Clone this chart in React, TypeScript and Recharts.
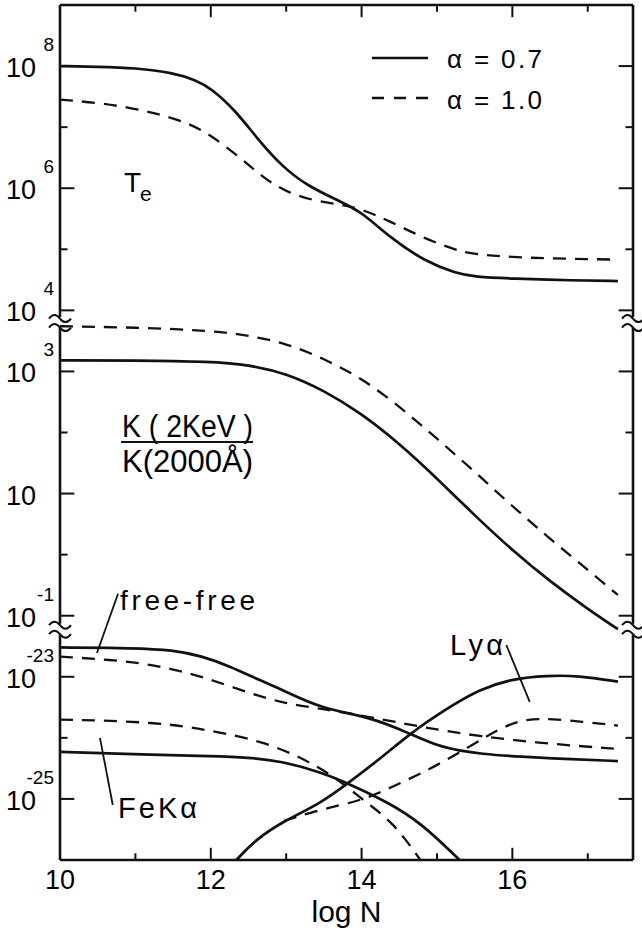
import React from 'react';
import { LineChart, Line, XAxis, YAxis, ReferenceLine, ReferenceDot } from 'recharts';

// ---------------- axis setup (log N horizontally, stacked log panels vertically) ----------------
const X_MIN = 10;
const X_MAX = 17.6;
const U_MIN = 0;
const U_MAX = 14;

// each panel is drawn on a shared vertical scale "u" = log10(value) + panel offset
const OFF_TE = 5;
const OFF_K = 5;
const OFF_EMIS = 26;

// broken-axis positions (in u)
const BREAK_UPPER = 8.8;
const BREAK_LOWER = 3.78;

// ---------------- data: T_e panel (log10 T_e) ----------------
const teSolidLogN = [10, 10.5, 11, 11.5, 11.8, 12, 12.33, 12.63, 12.95, 13.29, 13.74, 14, 14.39, 14.83, 15.26, 15.5, 16, 16.8, 17.4];
const teSolidLog = [8.0, 7.99, 7.97, 7.89, 7.77, 7.64, 7.27, 6.79, 6.35, 6.03, 5.77, 5.61, 5.18, 4.81, 4.6, 4.55, 4.52, 4.49, 4.48];
const teDashLogN = [10, 10.5, 10.92, 11.3, 11.67, 11.97, 12.42, 12.68, 12.99, 13.38, 13.74, 14, 14.39, 14.83, 15.26, 15.5, 16, 16.5, 17, 17.4];
const teDashLog = [7.45, 7.4, 7.32, 7.22, 7.08, 6.9, 6.47, 6.19, 5.94, 5.79, 5.73, 5.66, 5.45, 5.18, 4.98, 4.92, 4.87, 4.85, 4.84, 4.83];

// ---------------- data: K(2keV)/K(2000A) panel (log10 ratio) ----------------
const kSolidLogN = [10, 11, 12, 12.5, 13, 13.5, 14, 14.5, 15, 15.5, 16, 16.5, 17, 17.4];
const kSolidLog = [3.18, 3.18, 3.16, 3.11, 2.97, 2.69, 2.31, 1.82, 1.25, 0.64, 0.07, -0.44, -0.89, -1.22];
const kDashLogN = [10, 11, 12, 12.5, 13, 13.5, 14, 14.5, 15, 15.5, 16, 16.5, 17, 17.4];
const kDashLog = [3.74, 3.72, 3.67, 3.59, 3.46, 3.21, 2.89, 2.43, 1.9, 1.36, 0.79, 0.26, -0.25, -0.66];

// ---------------- data: emissivity panel (log10 emissivity) ----------------
const ffSolidLogN = [10, 11, 11.49, 11.88, 12.24, 12.67, 12.93, 13.46, 14.12, 14.64, 15.0, 15.3, 15.57, 16.09, 16.8, 17.4];
const ffSolidLog = [-22.52, -22.53, -22.56, -22.66, -22.82, -23.07, -23.2, -23.52, -23.66, -23.93, -24.13, -24.21, -24.26, -24.31, -24.35, -24.38];
const ffDashLogN = [10, 10.92, 11.49, 11.97, 12.54, 12.99, 13.46, 14.12, 14.78, 15.57, 16.5, 17.4];
const ffDashLog = [-22.67, -22.74, -22.87, -23.03, -23.28, -23.44, -23.52, -23.66, -23.82, -23.98, -24.1, -24.18];

const feSolidLogN = [10, 11.3, 12.0, 12.5, 12.93, 13.46, 13.9, 14.34, 14.78, 15.3];
const feSolidLog = [-24.23, -24.28, -24.3, -24.32, -24.38, -24.56, -24.79, -25.05, -25.38, -26.0];
const feDashLogN = [10, 11.3, 12.0, 12.67, 13.24, 13.68, 14.03, 14.42, 14.78];
const feDashLog = [-23.7, -23.74, -23.88, -24.05, -24.34, -24.67, -25.03, -25.38, -26.0];

const lySolidLogN = [12.34, 12.6, 12.97, 13.46, 13.82, 14.25, 14.64, 15.13, 15.57, 16.01, 16.45, 16.88, 17.4];
const lySolidLog = [-26.0, -25.66, -25.36, -25.07, -24.74, -24.34, -23.93, -23.52, -23.2, -23.03, -22.98, -22.98, -23.08];
const lyDashLogN = [12.97, 13.46, 13.99, 14.34, 14.78, 15.22, 15.66, 15.92, 16.18, 16.53, 16.97, 17.4];
const lyDashLog = [-25.36, -25.17, -25.03, -24.84, -24.59, -24.3, -23.97, -23.8, -23.69, -23.69, -23.74, -23.8];

// ---------------- tick labels ----------------
const teTickDecades = [8, 6, 4];
const teMinorDecades = [7, 5];
const kTickDecades = [3, 1, -1];
const kMinorDecades = [2, 0];
const emisTickDecades = [-23, -25];
const emisMinorDecades = [-24];
const xMajorTicks = [10, 12, 14, 16];
const xMinorTicks = [11, 13, 15, 17];

// annotation leader lines (data coordinates: log N, u)
const ffLeader = [{ x: 10.77, y: 4.36 }, { x: 10.49, y: 3.39 }];
const feLeader = [{ x: 10.53, y: 2.0 }, { x: 10.7, y: 0.9 }];
const lyLeader = [{ x: 15.92, y: 3.52 }, { x: 16.23, y: 2.59 }];

// ---------------- build tables ----------------
type Pt = { x: number; u: number };
const mk = (xs: number[], logs: number[], off: number): Pt[] => xs.map((x, i) => ({ x, u: logs[i] + off }));

const series = [
  { key: 'teSolid', data: mk(teSolidLogN, teSolidLog, OFF_TE), dashed: false },
  { key: 'teDash', data: mk(teDashLogN, teDashLog, OFF_TE), dashed: true },
  { key: 'kSolid', data: mk(kSolidLogN, kSolidLog, OFF_K), dashed: false },
  { key: 'kDash', data: mk(kDashLogN, kDashLog, OFF_K), dashed: true },
  { key: 'ffSolid', data: mk(ffSolidLogN, ffSolidLog, OFF_EMIS), dashed: false },
  { key: 'ffDash', data: mk(ffDashLogN, ffDashLog, OFF_EMIS), dashed: true },
  { key: 'feSolid', data: mk(feSolidLogN, feSolidLog, OFF_EMIS), dashed: false },
  { key: 'feDash', data: mk(feDashLogN, feDashLog, OFF_EMIS), dashed: true },
  { key: 'lySolid', data: mk(lySolidLogN, lySolidLog, OFF_EMIS), dashed: false },
  { key: 'lyDash', data: mk(lyDashLogN, lyDashLog, OFF_EMIS), dashed: true },
];

const majorY: { u: number; d: number }[] = [
  ...teTickDecades.map((d) => ({ u: d + OFF_TE, d })),
  ...kTickDecades.map((d) => ({ u: d + OFF_K, d })),
  ...emisTickDecades.map((d) => ({ u: d + OFF_EMIS, d })),
];
const minorY: number[] = [
  ...teMinorDecades.map((d) => d + OFF_TE),
  ...kMinorDecades.map((d) => d + OFF_K),
  ...emisMinorDecades.map((d) => d + OFF_EMIS),
];

const FONT = "'Liberation Sans', Arial, Helvetica, sans-serif";
const INK = '#111';
const AXIS_LEFT = 60;

const YTick = (props: any) => {
  const { y, payload } = props;
  const m = majorY.find((t) => Math.abs(t.u - payload.value) < 1e-6);
  const d = m ? m.d : 0;
  return (
    <g fontFamily={FONT} fill="#000">
      <text x={AXIS_LEFT - 24} y={y + 11} textAnchor="end" fontSize={27}>10</text>
      {d !== 1 && (
        <text x={AXIS_LEFT - 6} y={y - 15} textAnchor="end" fontSize={19}>{String(d)}</text>
      )}
    </g>
  );
};

const XTick = (props: any) => {
  const { x, y, payload } = props;
  return (
    <text x={x} y={y + 29} textAnchor="middle" fontSize={27} fontFamily={FONT} fill="#000">
      {payload.value}
    </text>
  );
};

const BreakMark = (props: any) => {
  const { cx, cy } = props;
  const w = 11;
  const p = (yy: number) => `M${cx - w},${yy} q${w / 2},-7 ${w},0 t${w},0`;
  return (
    <g fill="none" stroke={INK} strokeWidth={2}>
      <path d={p(cy - 4)} />
      <path d={p(cy + 5)} />
    </g>
  );
};

const MAJ_Y_LEN = 0.19; // in log N units
const MIN_Y_LEN = 0.1;
const MAJ_X_LEN = 0.2; // in u units
const MIN_X_LEN = 0.11;

export default function App() {
  const gap = 0.09;
  const frame = [
    [{ x: X_MIN, y: U_MIN }, { x: X_MIN, y: BREAK_LOWER - gap }],
    [{ x: X_MIN, y: BREAK_LOWER + gap }, { x: X_MIN, y: BREAK_UPPER - gap }],
    [{ x: X_MIN, y: BREAK_UPPER + gap }, { x: X_MIN, y: U_MAX }],
    [{ x: X_MAX, y: U_MIN }, { x: X_MAX, y: BREAK_LOWER - gap }],
    [{ x: X_MAX, y: BREAK_LOWER + gap }, { x: X_MAX, y: BREAK_UPPER - gap }],
    [{ x: X_MAX, y: BREAK_UPPER + gap }, { x: X_MAX, y: U_MAX }],
    [{ x: X_MIN, y: U_MIN }, { x: X_MAX, y: U_MIN }],
    [{ x: X_MIN, y: U_MAX }, { x: X_MAX, y: U_MAX }],
  ];
  const tickSegs: { x: number; y: number }[][] = [];
  majorY.forEach((t) => {
    tickSegs.push([{ x: X_MIN, y: t.u }, { x: X_MIN + MAJ_Y_LEN, y: t.u }]);
    tickSegs.push([{ x: X_MAX - MAJ_Y_LEN, y: t.u }, { x: X_MAX, y: t.u }]);
  });
  minorY.forEach((u) => {
    tickSegs.push([{ x: X_MIN, y: u }, { x: X_MIN + MIN_Y_LEN, y: u }]);
    tickSegs.push([{ x: X_MAX - MIN_Y_LEN, y: u }, { x: X_MAX, y: u }]);
  });
  xMajorTicks.filter((v) => v > X_MIN).forEach((v) => {
    tickSegs.push([{ x: v, y: U_MIN }, { x: v, y: U_MIN + MAJ_X_LEN }]);
    tickSegs.push([{ x: v, y: U_MAX - MAJ_X_LEN }, { x: v, y: U_MAX }]);
  });
  xMinorTicks.forEach((v) => {
    tickSegs.push([{ x: v, y: U_MIN }, { x: v, y: U_MIN + MIN_X_LEN }]);
    tickSegs.push([{ x: v, y: U_MAX - MIN_X_LEN }, { x: v, y: U_MAX }]);
  });

  return (
    <div style={{ position: 'absolute', left: 0, top: 0, width: 642, height: 930, background: '#fff' }}>
      <LineChart width={642} height={930} margin={{ top: 5, right: 9, bottom: 0, left: 0 }}>
        <XAxis
          type="number"
          dataKey="x"
          domain={[X_MIN, X_MAX]}
          ticks={xMajorTicks}
          interval={0}
          allowDataOverflow
          axisLine={false}
          tickLine={false}
          tickSize={0}
          tickMargin={0}
          height={70}
          tick={<XTick />}
          label={{ value: 'log N', position: 'insideBottom', offset: 8, fontSize: 30, fill: '#000', fontFamily: FONT }}
        />
        <YAxis
          type="number"
          dataKey="u"
          domain={[U_MIN, U_MAX]}
          ticks={majorY.map((t) => t.u)}
          interval={0}
          allowDataOverflow
          axisLine={false}
          tickLine={false}
          tickSize={0}
          tickMargin={0}
          width={AXIS_LEFT}
          tick={<YTick />}
        />
        {frame.map((seg, i) => (
          <ReferenceLine key={'f' + i} segment={seg} stroke={INK} strokeWidth={2.6} ifOverflow="visible" />
        ))}
        {tickSegs.map((seg, i) => (
          <ReferenceLine key={'t' + i} segment={seg} stroke={INK} strokeWidth={2} ifOverflow="visible" />
        ))}
        {[BREAK_LOWER, BREAK_UPPER].map((b) =>
          [X_MIN, X_MAX].map((xv) => (
            <ReferenceDot key={'b' + b + xv} x={xv} y={b} r={1} ifOverflow="visible" shape={(p: any) => <BreakMark {...p} />} />
          ))
        )}
        <ReferenceLine segment={ffLeader} stroke={INK} strokeWidth={1.8} ifOverflow="visible" />
        <ReferenceLine segment={feLeader} stroke={INK} strokeWidth={1.8} ifOverflow="visible" />
        <ReferenceLine segment={lyLeader} stroke={INK} strokeWidth={1.8} ifOverflow="visible" />
        {series.map((s) => (
          <Line
            key={s.key}
            data={s.data}
            dataKey="u"
            type="basis"
            stroke={INK}
            strokeWidth={s.dashed ? 2.3 : 2.7}
            strokeDasharray={s.dashed ? '13 9' : undefined}
            dot={false}
            activeDot={false}
            isAnimationActive={false}
          />
        ))}
      </LineChart>
      <svg width={642} height={930} style={{ position: 'absolute', left: 0, top: 0, pointerEvents: 'none' }}>
        <g fontFamily={FONT} fill="#000">
          {/* legend */}
          <line x1={372} x2={428} y1={58} y2={58} stroke={INK} strokeWidth={2.7} />
          <line x1={372} x2={428} y1={98} y2={98} stroke={INK} strokeWidth={2.3} strokeDasharray="12 10" />
          <text x={447} y={68} fontSize={26} textLength={95} lengthAdjust="spacing">α = 0.7</text>
          <text x={447} y={109} fontSize={26} textLength={95} lengthAdjust="spacing">α = 1.0</text>
          {/* T_e */}
          <text x={124} y={192} fontSize={28}>T</text>
          <text x={140} y={201} fontSize={21}>e</text>
          {/* K ratio */}
          <text x={122} y={437} fontSize={31} textLength={131} lengthAdjust="spacingAndGlyphs">K ( 2KeV )</text>
          <line x1={121} x2={253} y1={442} y2={442} stroke={INK} strokeWidth={2} />
          <text x={122} y={472} fontSize={31} textLength={131} lengthAdjust="spacingAndGlyphs">K(2000Å)</text>
          {/* emissivity labels */}
          <text x={120} y={610} fontSize={28} textLength={135} lengthAdjust="spacing">free-free</text>
          <text x={118} y={818} fontSize={29} textLength={79} lengthAdjust="spacing">FeKα</text>
          <text x={450} y={655} fontSize={29} textLength={53} lengthAdjust="spacing">Lyα</text>
        </g>
      </svg>
    </div>
  );
}
